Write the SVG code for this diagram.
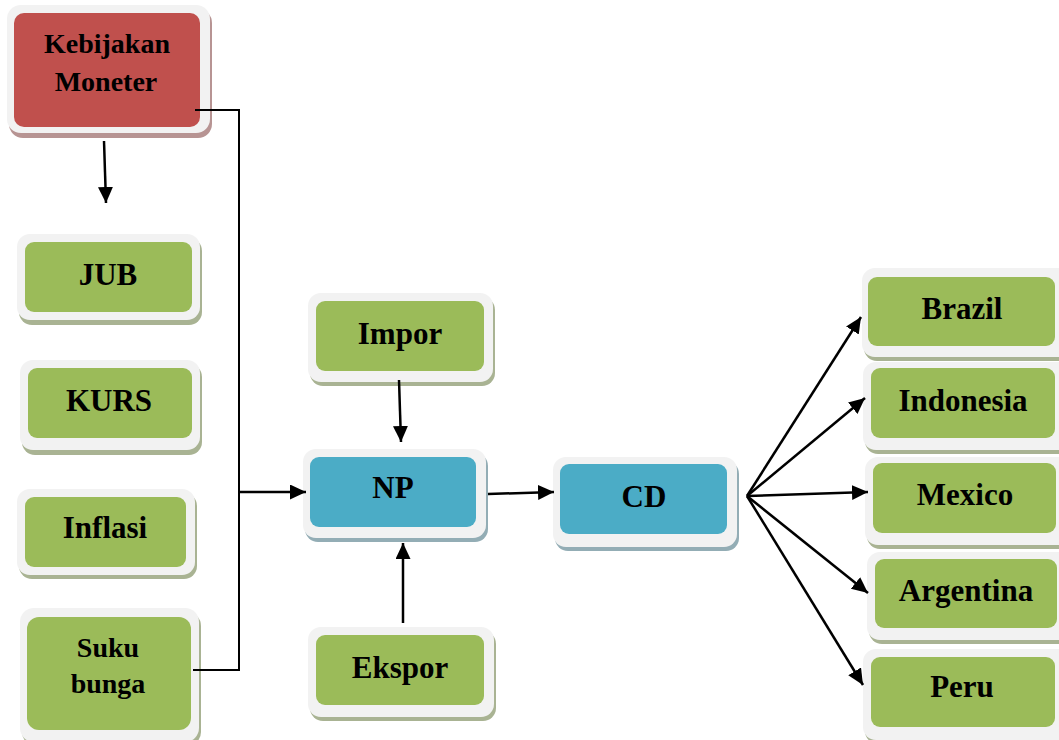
<svg xmlns="http://www.w3.org/2000/svg" width="1059" height="740" viewBox="0 0 1059 740">
<defs>
<marker id="ah" markerUnits="userSpaceOnUse" markerWidth="18" markerHeight="16" refX="16" refY="7.5" orient="auto">
<path d="M0,0 L16,7.5 L0,15 Z" fill="#000"/>
</marker>
</defs>
<style>
.frame{fill:#f2f2f2}
.sg{fill:#a9b393}
.sr{fill:#b79493}
.sb{fill:#93adb5}
.g{fill:#9bbb59}
.r{fill:#c0504d}
.b{fill:#4bacc6}
text{font-family:"Liberation Serif","Times New Roman",serif;font-weight:bold;fill:#000;text-anchor:middle}
.t30{font-size:31px}
.t28{font-size:28px}
.c{fill:none;stroke:#000;stroke-width:2}
.a{fill:none;stroke:#000;stroke-width:2.5}
</style>
<g id="kebijakan">
<rect class="sr" x="9" y="9" width="203" height="129" rx="14"/>
<rect class="frame" x="7" y="5" width="203" height="128" rx="14"/>
<rect class="r" x="14" y="13" width="186" height="114" rx="10"/>
<text class="t28" x="107" y="53">Kebijakan</text>
<text class="t28" x="106" y="91">Moneter</text>
</g>
<g id="jub">
<rect class="sg" x="19" y="238" width="183" height="87" rx="13"/>
<rect class="frame" x="17" y="234" width="183" height="86" rx="13"/>
<rect class="g" x="25" y="242" width="167" height="70" rx="9"/>
<text class="t30" x="108" y="285">JUB</text>
</g>
<g id="kurs">
<rect class="sg" x="22" y="364" width="180" height="91" rx="13"/>
<rect class="frame" x="20" y="360" width="180" height="90" rx="13"/>
<rect class="g" x="28" y="368" width="164" height="70" rx="9"/>
<text class="t30" x="109" y="411">KURS</text>
</g>
<g id="inflasi">
<rect class="sg" x="19" y="493" width="178" height="86" rx="13"/>
<rect class="frame" x="17" y="489" width="178" height="86" rx="13"/>
<rect class="g" x="25" y="497" width="161" height="70" rx="9"/>
<text class="t30" x="105" y="538">Inflasi</text>
</g>
<g id="suku-bunga">
<rect class="sg" x="22" y="612" width="179" height="134" rx="14"/>
<rect class="frame" x="20" y="608" width="179" height="134" rx="14"/>
<rect class="g" x="27" y="617" width="164" height="113" rx="12"/>
<text class="t28" x="108" y="657">Suku</text>
<text class="t28" x="108" y="693">bunga</text>
</g>
<g id="impor">
<rect class="sg" x="310" y="297" width="185" height="89" rx="13"/>
<rect class="frame" x="308" y="293" width="185" height="89" rx="13"/>
<rect class="g" x="316" y="301" width="168" height="70" rx="9"/>
<text class="t30" x="400" y="344">Impor</text>
</g>
<g id="np">
<rect class="sb" x="305" y="453" width="183" height="89" rx="13"/>
<rect class="frame" x="303" y="449" width="183" height="89" rx="13"/>
<rect class="b" x="310" y="457" width="166" height="70" rx="9"/>
<text class="t30" x="393" y="498">NP</text>
</g>
<g id="cd">
<rect class="sb" x="555" y="461" width="184" height="90" rx="13"/>
<rect class="frame" x="553" y="457" width="184" height="90" rx="13"/>
<rect class="b" x="560" y="464" width="167" height="70" rx="9"/>
<text class="t30" x="644" y="507">CD</text>
</g>
<g id="ekspor">
<rect class="sg" x="310" y="631" width="186" height="90" rx="13"/>
<rect class="frame" x="308" y="627" width="186" height="90" rx="13"/>
<rect class="g" x="316" y="635" width="168" height="70" rx="9"/>
<text class="t30" x="400" y="678">Ekspor</text>
</g>
<g id="brazil">
<rect class="sg" x="864" y="272" width="210" height="89" rx="13"/>
<rect class="frame" x="862" y="268" width="210" height="89" rx="13"/>
<rect class="g" x="868" y="277" width="187" height="69" rx="9"/>
<text class="t30" x="962" y="319">Brazil</text>
</g>
<g id="indonesia">
<rect class="sg" x="865" y="366" width="210" height="88" rx="13"/>
<rect class="frame" x="863" y="362" width="210" height="88" rx="13"/>
<rect class="g" x="871" y="368" width="184" height="70" rx="9"/>
<text class="t30" x="963" y="411">Indonesia</text>
</g>
<g id="mexico">
<rect class="sg" x="867" y="461" width="210" height="88" rx="13"/>
<rect class="frame" x="865" y="457" width="210" height="88" rx="13"/>
<rect class="g" x="873" y="463" width="183" height="70" rx="9"/>
<text class="t30" x="965" y="505">Mexico</text>
</g>
<g id="argentina">
<rect class="sg" x="869" y="556" width="210" height="88" rx="13"/>
<rect class="frame" x="867" y="552" width="210" height="88" rx="13"/>
<rect class="g" x="875" y="559" width="182" height="69" rx="9"/>
<text class="t30" x="966" y="601">Argentina</text>
</g>
<g id="peru">
<rect class="sg" x="865" y="653" width="210" height="91" rx="13"/>
<rect class="frame" x="863" y="649" width="210" height="91" rx="13"/>
<rect class="g" x="871" y="657" width="184" height="70" rx="9"/>
<text class="t30" x="962" y="697">Peru</text>
</g>
<g id="connectors">
<path class="c" d="M195,110 H239 V670 H193"/>
<path class="a" d="M239,492 H306" marker-end="url(#ah)"/>
<path class="a" d="M104,141 L106,203" marker-end="url(#ah)"/>
<path class="a" d="M399,380 L401,442" marker-end="url(#ah)"/>
<path class="a" d="M403,623 L403,543" marker-end="url(#ah)"/>
<path class="a" d="M488,494 L554,492" marker-end="url(#ah)"/>
<path class="a" d="M747,496 L861,317" marker-end="url(#ah)"/>
<path class="a" d="M747,496 L865,398" marker-end="url(#ah)"/>
<path class="a" d="M747,496 L868,492" marker-end="url(#ah)"/>
<path class="a" d="M747,496 L868,593" marker-end="url(#ah)"/>
<path class="a" d="M747,496 L863,685" marker-end="url(#ah)"/>
</g>
</svg>
